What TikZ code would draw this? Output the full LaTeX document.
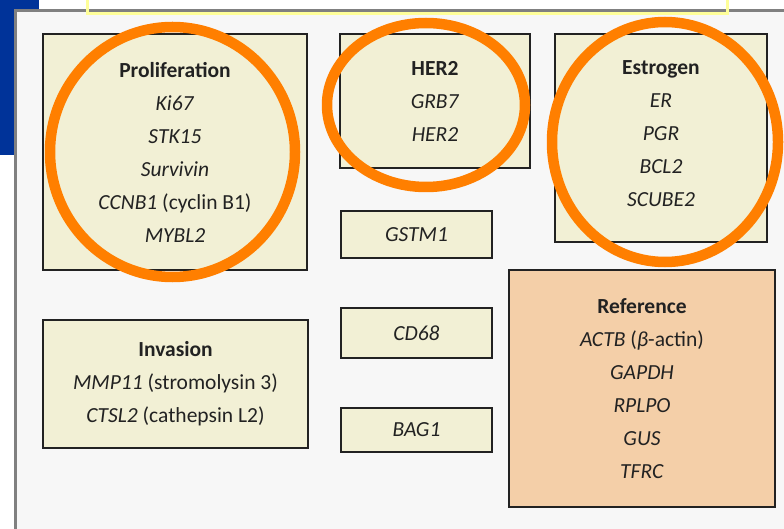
\documentclass[tikz,border=0pt]{standalone}
\usepackage{fontspec}
\setmainfont{Carlito}
\definecolor{slideblue}{RGB}{0,51,153}
\definecolor{panelbg}{RGB}{247,247,247}
\definecolor{panelgray}{RGB}{128,128,128}
\definecolor{titleyellow}{RGB}{255,255,153}
\definecolor{cream}{RGB}{242,240,213}
\definecolor{peach}{RGB}{244,207,168}
\definecolor{boxline}{RGB}{34,34,34}
\definecolor{ringorange}{RGB}{255,127,0}
\tikzset{
  genebox/.style={draw=boxline, line width=2.5pt, fill=cream, inner sep=0pt,
    align=center, text=boxline, font=\fontsize{21.5}{33}\selectfont},
  refbox/.style={genebox, fill=peach},
  ring/.style={draw=ringorange, line width=10.5pt},
}

\begin{document}
\begin{tikzpicture}[x=1pt, y=-1pt]
\useasboundingbox (0,0) rectangle (784,529);

% slide backdrop
\fill[slideblue] (0,0) rectangle (39,155);
\draw[panelgray, line width=3pt, fill=panelbg] (15.5,10.5) rectangle (800,545);
\draw[titleyellow, line width=3pt] (87,-5) rectangle (727,13.5);

% gene groups
\node[genebox, minimum width=264pt, minimum height=236pt] (prolif) at (175,152)
  {\textbf{Proliferation}\\ \textit{Ki67}\\ \textit{STK15}\\ \textit{Survivin}\\
   \textit{CCNB1} (cyclin B1)\\ \textit{MYBL2}};
\node[genebox, minimum width=190pt, minimum height=134pt] (her2) at (435,101)
  {\textbf{HER2}\\ \textit{GRB7}\\ \textit{HER2}};
\node[genebox, minimum width=212pt, minimum height=208pt] (estro) at (661,138)
  {\textbf{Estrogen}\\ \textit{ER}\\ \textit{PGR}\\ \textit{BCL2}\\ \textit{SCUBE2}\\[-25pt]};
\node[genebox, minimum width=151pt, minimum height=47pt] (gstm) at (416.5,234.5)
  {\textit{GSTM1}};
\node[genebox, minimum width=151pt, minimum height=50pt] (cd68) at (416.5,333)
  {\textit{CD68}};
\node[genebox, minimum width=151pt, minimum height=44pt] (bag1) at (416.5,430)
  {\textit{BAG1}};
\node[genebox, minimum width=265pt, minimum height=128pt] (invas) at (175.5,384)
  {\textbf{Invasion}\\ \textit{MMP11} (stromolysin 3)\\ \textit{CTSL2} (cathepsin L2)};
\node[refbox, minimum width=266pt, minimum height=237pt] (refer) at (642,388.5)
  {\textbf{Reference}\\ \textit{ACTB} (\textit{β}-actin)\\ \textit{GAPDH}\\ \textit{RPLPO}\\
   \textit{GUS}\\ \textit{TFRC}};

% highlight rings
\draw[ring] (172.5,152) ellipse [x radius=122.5, y radius=125];
\draw[ring] (426,105) ellipse [x radius=99, y radius=82];
\draw[ring] (665,142) ellipse [x radius=113, y radius=120];

\end{tikzpicture}
\end{document}
